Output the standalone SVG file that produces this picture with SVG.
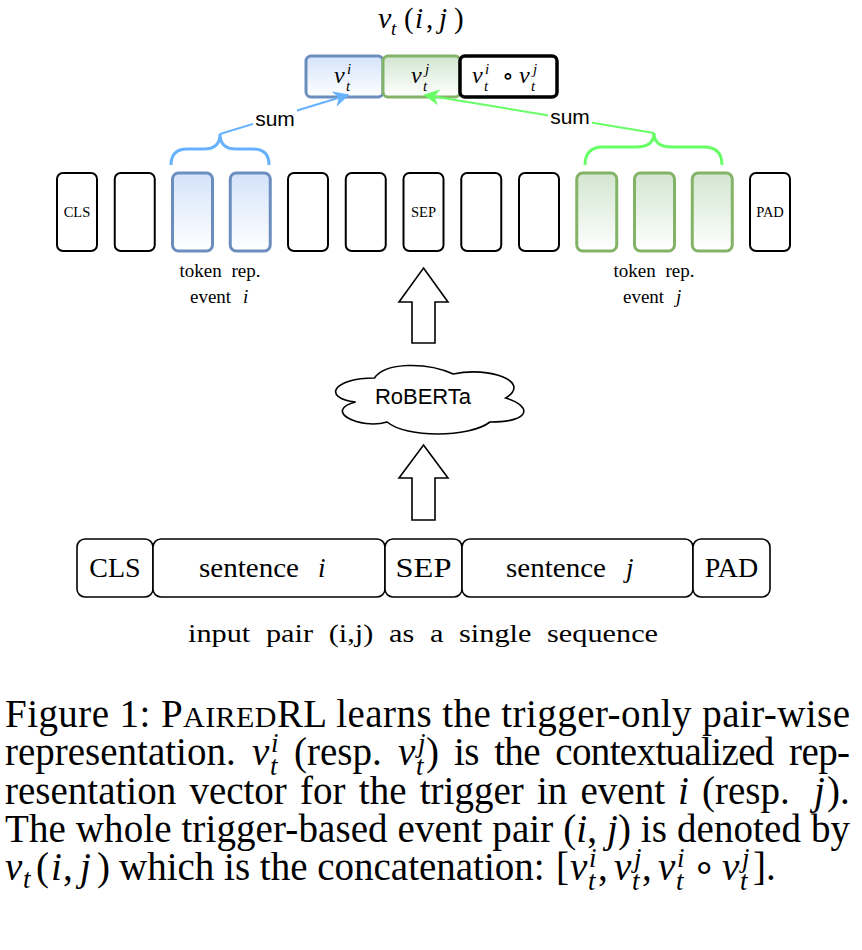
<svg xmlns="http://www.w3.org/2000/svg" width="862" height="950" viewBox="0 0 862 950">
<defs>
<linearGradient id="gBlue" x1="0" y1="0" x2="0" y2="1"><stop offset="0" stop-color="#d4e3fa"/><stop offset="1" stop-color="#ffffff"/></linearGradient>
<linearGradient id="gGreen" x1="0" y1="0" x2="0" y2="1"><stop offset="0" stop-color="#d2e6d0"/><stop offset="1" stop-color="#ffffff"/></linearGradient>
<marker id="mBlue" viewBox="0 0 10 10" refX="9" refY="5" markerWidth="16" markerHeight="16" orient="auto" markerUnits="userSpaceOnUse"><path d="M0,0 L10,5 L0,10 L3,5 Z" fill="#66b2ff"/></marker>
<marker id="mGreen" viewBox="0 0 10 10" refX="9" refY="5" markerWidth="16" markerHeight="16" orient="auto" markerUnits="userSpaceOnUse"><path d="M0,0 L10,5 L0,10 L3,5 Z" fill="#66ff66"/></marker>
</defs>
<style>
.tok{fill:#fff;stroke:#000;stroke-width:2}
.tb{fill:url(#gBlue);stroke:#6c8ebf;stroke-width:3}
.tg{fill:url(#gGreen);stroke:#82b366;stroke-width:3}
.cm{font-family:"Liberation Serif","DejaVu Serif",serif;fill:#000}
.mi{font-family:"Liberation Serif","DejaVu Serif",serif;font-style:italic;fill:#000}
.sans{font-family:"Liberation Sans",Arial,sans-serif;fill:#000}
.small{font-size:14.5px}
.box{fill:#fff;stroke:#000;stroke-width:1.6}
.cap{font-family:"Liberation Serif","Times New Roman",serif;font-size:39px;fill:#000}
.capi{font-family:"Liberation Serif","Times New Roman",serif;font-size:39px;font-style:italic;fill:#000}
.capsm{font-family:"Liberation Serif","Times New Roman",serif;font-size:27px;font-style:italic;fill:#000}
</style>

<g id="title">
<text x="378" y="28" class="mi" font-size="30">v</text>
<text x="391" y="35" class="mi" font-size="19">t</text>
<text x="404" y="28" class="cm" font-size="29">(</text>
<text x="415" y="28" class="mi" font-size="29">i</text>
<text x="426" y="28" class="cm" font-size="29">,</text>
<text x="439" y="28" class="mi" font-size="29">j</text>
<text x="454" y="28" class="cm" font-size="29">)</text>
</g>

<g id="vec-i">
<rect x="306" y="56" width="77" height="41" rx="5" fill="url(#gBlue)" stroke="#6c8ebf" stroke-width="3"/>
<text x="334" y="83" class="mi" font-size="24">v</text><text x="347" y="74" class="mi" font-size="15">i</text><text x="346" y="91" class="mi" font-size="15">t</text>
</g>
<g id="vec-j">
<rect x="383" y="56" width="77" height="41" rx="5" fill="url(#gGreen)" stroke="#82b366" stroke-width="3"/>
<text x="411" y="83" class="mi" font-size="24">v</text><text x="425" y="74" class="mi" font-size="15">j</text><text x="423" y="91" class="mi" font-size="15">t</text>
</g>
<g id="vec-prod">
<rect x="460" y="56" width="97" height="41" rx="5" fill="#fff" stroke="#000" stroke-width="3.5"/>
<text x="472" y="83" class="mi" font-size="24">v</text><text x="485" y="74" class="mi" font-size="15">i</text><text x="484" y="91" class="mi" font-size="15">t</text>
<text x="508" y="84" text-anchor="middle" class="cm" font-size="24">∘</text>
<text x="519" y="83" class="mi" font-size="24">v</text><text x="533" y="74" class="mi" font-size="15">j</text><text x="531" y="91" class="mi" font-size="15">t</text>
</g>

<g id="tokens">
<g id="tok-cls"><rect class="tok" x="57" y="173" width="40" height="78" rx="6"/><text x="77" y="217" text-anchor="middle" class="cm small">CLS</text></g>
<g id="tok-1"><rect class="tok" x="114.75" y="173" width="40" height="78" rx="6"/></g>
<g id="tok-2"><rect class="tb" x="172.5" y="173" width="40" height="78" rx="6"/></g>
<g id="tok-3"><rect class="tb" x="230.25" y="173" width="40" height="78" rx="6"/></g>
<g id="tok-4"><rect class="tok" x="288" y="173" width="40" height="78" rx="6"/></g>
<g id="tok-5"><rect class="tok" x="345.75" y="173" width="40" height="78" rx="6"/></g>
<g id="tok-sep"><rect class="tok" x="403.5" y="173" width="40" height="78" rx="6"/><text x="423.5" y="217" text-anchor="middle" class="cm small">SEP</text></g>
<g id="tok-7"><rect class="tok" x="461.25" y="173" width="40" height="78" rx="6"/></g>
<g id="tok-8"><rect class="tok" x="519" y="173" width="40" height="78" rx="6"/></g>
<g id="tok-9"><rect class="tg" x="576.75" y="173" width="40" height="78" rx="6"/></g>
<g id="tok-10"><rect class="tg" x="634.5" y="173" width="40" height="78" rx="6"/></g>
<g id="tok-11"><rect class="tg" x="692.25" y="173" width="40" height="78" rx="6"/></g>
<g id="tok-pad"><rect class="tok" x="750" y="173" width="40" height="78" rx="6"/><text x="770" y="217" text-anchor="middle" class="cm small">PAD</text></g>
</g>

<g id="label-i">
<text x="220" y="277" text-anchor="middle" class="cm" font-size="19" word-spacing="5">token rep.</text>
<text x="190" y="303" class="cm" font-size="19">event</text><text x="243" y="303" class="mi" font-size="19">i</text>
</g>
<g id="label-j">
<text x="654" y="277" text-anchor="middle" class="cm" font-size="19" word-spacing="5">token rep.</text>
<text x="623" y="303" class="cm" font-size="19">event</text><text x="676" y="303" class="mi" font-size="19">j</text>
</g>

<g id="brace-i"><path d="M171,165 Q171,149 187,149 L204,149 Q220,149 220,134 Q220,149 236,149 L253,149 Q269,149 269,165" fill="none" stroke="#66b2ff" stroke-width="3"/></g>
<g id="brace-j"><path d="M585,165 Q585,147 603,147 L636,147 Q654,147 654,133 Q654,147 672,147 L704,147 Q722,147 722,165" fill="none" stroke="#66ff66" stroke-width="3"/></g>

<g id="roberta">
<path d="M374.5,378 C332.5,378 322,398 355.6,402 C322,410.8 359.8,430 387.1,422 C406,438 469,438 490,422 C532,422 532,406 505.75,398 C532,382 490,366 453.25,374 C427,362 385,362 374.5,378 Z" fill="#fff" stroke="#000" stroke-width="1.6"/>
<text x="423" y="404" text-anchor="middle" class="sans" font-size="22">RoBERTa</text>
</g>

<g id="input-seq">
<g id="in-cls"><rect class="box" x="77" y="539" width="76" height="58" rx="8"/><text x="115" y="577" text-anchor="middle" class="cm" font-size="28">CLS</text></g>
<g id="in-si"><rect class="box" x="153" y="539" width="232" height="58" rx="8"/><text x="199" y="577" class="cm" font-size="27" textLength="100" lengthAdjust="spacingAndGlyphs">sentence</text><text x="318" y="577" class="mi" font-size="27">i</text></g>
<g id="in-sep"><rect class="box" x="385" y="539" width="77" height="58" rx="8"/><text x="423.5" y="577" text-anchor="middle" class="cm" font-size="28" textLength="56" lengthAdjust="spacingAndGlyphs">SEP</text></g>
<g id="in-sj"><rect class="box" x="462" y="539" width="231" height="58" rx="8"/><text x="506" y="577" class="cm" font-size="27" textLength="100" lengthAdjust="spacingAndGlyphs">sentence</text><text x="626" y="577" class="mi" font-size="27">j</text></g>
<g id="in-pad"><rect class="box" x="693" y="539" width="77" height="58" rx="8"/><text x="731.5" y="577" text-anchor="middle" class="cm" font-size="28">PAD</text></g>
<text x="188" y="642" class="cm" font-size="26" word-spacing="7" textLength="470" lengthAdjust="spacingAndGlyphs">input pair (i,j) as a single sequence</text>
</g>

<g id="connectors">
<polygon points="423.5,268 448,302 435,302 435,343 412,343 412,302 399,302" fill="#fff" stroke="#000" stroke-width="1.6"/>
<polygon points="423.5,445 448,478 435,478 435,520 412,520 412,478 399,478" fill="#fff" stroke="#000" stroke-width="1.6"/>
<line x1="220" y1="134" x2="348" y2="95" stroke="#66b2ff" stroke-width="2" marker-end="url(#mBlue)"/>
<line x1="654" y1="133" x2="425" y2="95" stroke="#66ff66" stroke-width="2" marker-end="url(#mGreen)"/>
<rect x="253" y="108" width="44" height="22" fill="#fff"/>
<text x="275" y="126" text-anchor="middle" class="sans" font-size="21">sum</text>
<rect x="548" y="106" width="44" height="22" fill="#fff"/>
<text x="570" y="124" text-anchor="middle" class="sans" font-size="21">sum</text>
</g>

<g id="caption">
<text x="5" y="727" class="cap" textLength="845" lengthAdjust="spacing">Figure 1: P<tspan font-size="30">AIRED</tspan>RL  learns the trigger-only pair-wise</text>

<text x="5" y="765" class="cap">representation.</text>
<text x="252" y="765" class="capi">v</text><text x="271" y="752" class="capsm">i</text><text x="270" y="775" class="capsm">t</text>
<text x="294" y="765" class="cap">(resp.</text>
<text x="398" y="765" class="capi">v</text><text x="418" y="752" class="capsm">j</text><text x="416" y="775" class="capsm">t</text>
<text x="426" y="765" class="cap">)</text>
<text x="454" y="765" class="cap" word-spacing="6.3" textLength="396" lengthAdjust="spacing">is the contextualized rep-</text>

<text x="5" y="804" class="cap" word-spacing="3.5" textLength="660" lengthAdjust="spacing">resentation vector for the trigger in event</text>
<text x="678" y="804" class="capi">i</text>
<text x="702" y="804" class="cap">(resp.</text>
<text x="814" y="804" class="capi">j</text>
<text x="827" y="804" class="cap">).</text>

<text x="5" y="842" class="cap" textLength="845" lengthAdjust="spacing">The whole trigger-based event pair (<tspan font-style="italic">i</tspan>, <tspan font-style="italic">j</tspan>) is denoted by</text>

<text x="5" y="880" class="capi">v</text><text x="23" y="888" class="capsm">t</text>
<text x="36" y="880" class="cap">(</text><text x="51" y="880" class="capi">i</text><text x="63" y="880" class="cap">,</text><text x="80" y="880" class="capi">j</text><text x="97" y="880" class="cap">)</text>
<text x="119" y="880" class="cap">which is the concatenation:</text>
<text x="556" y="880" class="cap">[</text>
<text x="570" y="880" class="capi">v</text><text x="589" y="867" class="capsm">i</text><text x="588" y="890" class="capsm">t</text><text x="598" y="880" class="cap">,</text>
<text x="614" y="880" class="capi">v</text><text x="634" y="867" class="capsm">j</text><text x="632" y="890" class="capsm">t</text><text x="642" y="880" class="cap">,</text>
<text x="658" y="880" class="capi">v</text><text x="677" y="867" class="capsm">i</text><text x="676" y="890" class="capsm">t</text>
<text x="704" y="880" text-anchor="middle" class="cap" font-size="30">∘</text>
<text x="722" y="880" class="capi">v</text><text x="742" y="867" class="capsm">j</text><text x="740" y="890" class="capsm">t</text>
<text x="753" y="880" class="cap">].</text>
</g>
</svg>
